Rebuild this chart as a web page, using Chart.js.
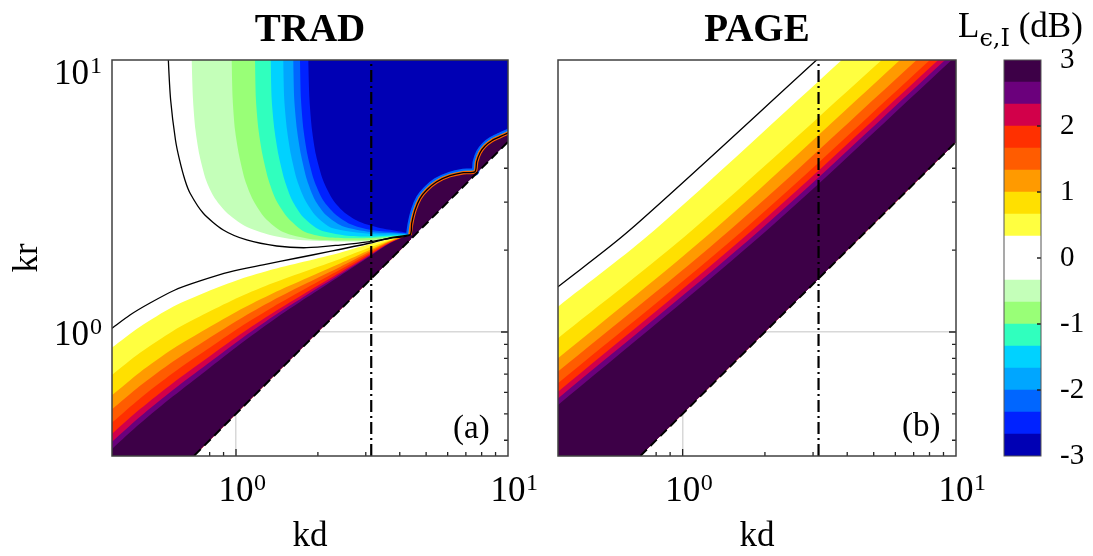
<!DOCTYPE html>
<html><head><meta charset="utf-8">
<script src="https://cdn.jsdelivr.net/npm/chart.js@4.4.1/dist/chart.umd.min.js"></script>
<style>
html,body{margin:0;padding:0;background:#fff;}
#wrap{position:relative;width:1093px;height:556px;overflow:hidden;font-family:'Liberation Serif','Times New Roman',serif;}
canvas{position:absolute;left:0;top:0;}
.lbl{position:absolute;line-height:1;white-space:nowrap;color:#000;}
</style></head><body>
<div id="wrap">
<canvas id="trad" width="1093" height="556"></canvas>
<canvas id="page" width="1093" height="556"></canvas>
<canvas id="cbar" width="1093" height="556"></canvas>
<div class="lbl" style="left:453px;top:411px;font-size:33px">(a)</div>
<div class="lbl" style="left:902px;top:409px;font-size:33px">(b)</div>
<div class="lbl" style="left:958px;top:8px;font-size:35px">L<span style="font-size:24px;position:relative;top:9px;font-family:'DejaVu Serif','Liberation Serif',serif">ϵ,I</span> (dB)</div>
</div>
<script>
Chart.defaults.font.family = "'Liberation Serif','Times New Roman',serif";
Chart.defaults.color = '#000';
Chart.defaults.animation = false;

/* ---------- axes ---------- */
const axisMin = 0.35, axisMax = 10;
const axisTickVals = [1, 10];
const axisTickBase = ['10', '10'];
const axisTickExp = ['0', '1'];
const minorTickVals = [0.4,0.5,0.6,0.7,0.8,0.9,2,3,4,5,6,7,8,9];

/* ---------- contour levels & colours ---------- */
const levelsPos = [0.33,0.67,1.00,1.33,1.67,2.00,2.33,2.67];
const colorsPos = ['#ffff40','#ffe000','#ff9a00','#ff5c00','#ff3000','#d2004a','#6b007c','#3d0047'];
const levelsNeg = [-0.33,-0.67,-1.00,-1.33,-1.67,-2.00,-2.33,-2.67];
const colorsNeg = ['#c4ffb9','#99ff77','#30ffbe','#00d2ff','#00a6ff','#0066ff','#0022ff','#0000b4'];

/* ---------- common boundaries ---------- */
const baseKd = [0.2, 30, 30, 0.2];
const baseKr = [0.1, 15, 30, 30];
const limitKd = [30, 20, 10, 3, 1, 0.35, 0.2];          // kr = kd/2 limit (no data below)
const limitKr = [15, 10, 5, 1.5, 0.5, 0.175, 0.1];
const limitLineKd = [0.2, 30];
const limitLineKr = [0.1, 15];
const piKd = [3.1416, 3.1416];
const piKr = [0.2, 20];

/* ---------- TRAD: positive fan (left edge -> cusp) ---------- */
const tradFanKd = [0.28,0.350,0.4437,0.5866,0.7822,1.034,1.368,1.824,2.412,3.110,3.683,4.388];
const tradFan033 = [0.750,0.877,1.046,1.239,1.406,1.562,1.700,1.824,1.957,2.106,2.198,2.274];
const tradFan067 = [0.584,0.6955,0.838,1.009,1.176,1.347,1.513,1.679,1.855,2.048,2.176,2.274];
const tradFan100 = [0.488,0.5855,0.7115,0.8673,1.030,1.207,1.388,1.578,1.784,2.005,2.161,2.274];
const tradFan133 = [0.430,0.5194,0.6341,0.7796,0.9393,1.117,1.308,1.513,1.735,1.977,2.150,2.274];
const tradFan167 = [0.383,0.4644,0.5699,0.7067,0.8616,1.041,1.236,1.453,1.692,1.950,2.138,2.274];
const tradFan200 = [0.347,0.4223,0.5207,0.650,0.8012,0.979,1.178,1.404,1.656,1.927,2.129,2.274];
const tradFan233 = [0.323,0.3945,0.4878,0.6118,0.7603,0.9368,1.139,1.370,1.630,1.912,2.124,2.274];
const tradFan267 = [0.303,0.3715,0.4604,0.5801,0.7256,0.9019,1.105,1.341,1.608,1.898,2.119,2.274];
const tradFanTailKd = [4.388, 3, 1, 0.35, 0.2];
const tradFanTailKr = [2.194, 1.5, 0.5, 0.175, 0.1];

/* ---------- TRAD: negative U-shaped bands (top edge -> cusp) ---------- */
const tradNeg033Kd = [0.6874,0.6874,0.6950,0.7096,0.7338,0.7757,0.8300,0.9189,1.079,1.334,1.719,2.412,3.135,4.290];
const tradNeg033Kr = [12,10,7.128,5.528,4.474,3.620,3.135,2.762,2.454,2.274,2.179,2.152,2.161,2.264];
const tradNeg067Kd = [0.9643,0.9643,0.9725,0.9916,1.026,1.079,1.155,1.278,1.489,1.871,2.516,3.135,4.290];
const tradNeg067Kr = [12,10,7.128,5.528,4.474,3.620,3.057,2.625,2.331,2.198,2.170,2.179,2.274];
const tradNeg100Kd = [1.175,1.175,1.184,1.210,1.252,1.317,1.403,1.553,1.794,2.216,3.135,4.290];
const tradNeg100Kr = [12,10,7.128,5.528,4.474,3.620,3.057,2.625,2.331,2.226,2.216,2.274];
const tradNeg133Kd = [1.342,1.342,1.353,1.385,1.433,1.508,1.606,1.764,2.036,2.516,3.135,4.290];
const tradNeg133Kr = [12,10,7.128,5.528,4.474,3.620,3.057,2.647,2.371,2.264,2.245,2.274];
const tradNeg167Kd = [1.492,1.492,1.505,1.540,1.593,1.676,1.794,1.968,2.254,3.135,4.290];
const tradNeg167Kr = [12,10,7.128,5.528,4.474,3.620,3.057,2.670,2.412,2.293,2.283];
const tradNeg200Kd = [1.624,1.624,1.638,1.676,1.734,1.824,1.951,2.142,2.454,3.135,4.290];
const tradNeg200Kr = [12,10,7.128,5.528,4.474,3.620,3.057,2.692,2.454,2.331,2.293];
const tradNeg233Kd = [1.719,1.719,1.734,1.771,1.832,1.935,2.088,2.312,2.625,3.135,4.290];
const tradNeg233Kr = [12,10,7.128,5.528,4.474,3.620,3.057,2.715,2.495,2.371,2.302];
const tradNeg267Kd = [1.844,1.844,1.863,1.903,1.968,2.088,2.274,2.516,2.857,3.383,4.290];
const tradNeg267Kr = [12,10,7.128,5.528,4.474,3.620,3.057,2.738,2.537,2.412,2.312];
const tradNegHeadKd = [12], tradNegHeadKr = [12];
const tradNegTailKd = [12], tradNegTailKr = [6];

/* ---------- TRAD: scallop arcs above the limit ---------- */
const tradArcKd = [4.362,4.426,4.551,4.748,5.024,5.469,6.121,6.849,7.562,7.670,7.889,8.230,8.711,9.346,9.940,10.6];
const tradArcKr = [2.274,2.509,2.809,3.101,3.327,3.569,3.755,3.852,3.885,4.228,4.563,4.829,5.050,5.224,5.377,5.54];
const tradUnderTailKd = [12, 12, 10, 7, 4.362];
const tradUnderTailKr = [6.2, 6, 5, 3.5, 2.181];

/* ---------- TRAD: black curves ---------- */
const tradUpperKd = [0.562,0.564,0.575,0.599,0.620,0.649,0.678,0.758,0.898,1.095,1.411,1.820,2.412,3.110,3.683];
const tradUpperKr = [12,10,7.13,5.08,4.29,3.62,3.236,2.732,2.371,2.179,2.071,2.041,2.088,2.148,2.211];
const tradLowerKd = [0.30,0.3530,0.4076,0.4829,0.5965,0.7374,0.9504,1.257,1.676,2.216,3.110,3.683,4.362];
const tradLowerKr = [0.92,1.039,1.155,1.278,1.427,1.540,1.662,1.764,1.871,1.977,2.124,2.216,2.274];

/* ---------- PAGE: bands (left edge -> top edge) ---------- */
const pageBlackKd = [0.28, 0.35, 0.641, 3.09, 3.46];
const pageBlackKr = [1.232, 1.467, 2.37, 10, 11.1];
const page033Kd = [0.28, 0.35, 0.79, 3.82, 4.28];   const page033Kr = [1.041, 1.239, 2.37, 10, 11.1];
const page067Kd = [0.28, 0.35, 1.085, 5.35, 5.99];  const page067Kr = [0.796, 0.948, 2.37, 10, 11.1];
const page100Kd = [0.28, 0.35, 1.30, 6.24, 6.99];   const page100Kr = [0.672, 0.800, 2.37, 10, 11.1];
const page133Kd = [0.28, 0.35, 1.49, 7.18, 8.04];   const page133Kr = [0.601, 0.715, 2.37, 10, 11.1];
const page167Kd = [0.28, 0.35, 1.67, 8.03, 8.99];   const page167Kr = [0.544, 0.648, 2.37, 10, 11.1];
const page200Kd = [0.28, 0.35, 1.80, 8.61, 9.64];   const page200Kr = [0.507, 0.603, 2.37, 10, 11.1];
const page233Kd = [0.28, 0.35, 1.92, 9.12, 10.21];  const page233Kr = [0.479, 0.570, 2.37, 10, 11.1];
const page267Kd = [0.28, 0.35, 2.04, 9.64, 10.8];   const page267Kr = [0.453, 0.539, 2.37, 10, 11.1];

/* ---------- colour bar ---------- */
const cbLevels = [-3,-2.667,-2.333,-2,-1.667,-1.333,-1,-0.667,-0.333,0,0.333,0.667,1,1.333,1.667,2,2.333,2.667,3];
const cbColors = ['#0000b4','#0022ff','#0066ff','#00a6ff','#00d2ff','#30ffbe','#99ff77','#c4ffb9','#ffffff','#ffffff',
                  '#ffff40','#ffe000','#ff9a00','#ff5c00','#ff3000','#d2004a','#6b007c','#3d0047'];
const cbTickVals = [-3,-2,-1,0,1,2,3];

/* ---------- helpers ---------- */
const LABEL_FONT = 35, EXP_FONT = 24;
const pts = (xs, ys) => xs.map((x, i) => ({x, y: ys[i]}));
function polyDs(points, color, tension) {
  return {data: points, fill: 'shape', backgroundColor: color, borderColor: 'rgba(0,0,0,0)',
          borderWidth: 0, pointRadius: 0, tension: tension === undefined ? 0.25 : tension};
}
function lineDs(points, color, width, dash, tension) {
  return {data: points, fill: false, borderColor: color, borderWidth: width, borderDash: dash || [],
          pointRadius: 0, tension: tension === undefined ? 0.25 : tension, borderCapStyle: 'butt'};
}
function withOrder(list) { list.forEach((d, i) => { d.order = list.length - i; }); return list; }

function makeTickMarks(id, before, right, bottom, vals, lens) {
  const draw = (chart) => {
    const {ctx, chartArea: a} = chart;
    ctx.save(); ctx.strokeStyle = '#222'; ctx.lineWidth = 1.3; ctx.beginPath();
    vals.forEach((v, i) => {
      const L = lens[i];
      if (bottom) {
        const px = chart.scales.x.getPixelForValue(v);
        if (px > a.left + 1 && px < a.right - 1) { ctx.moveTo(px, a.bottom); ctx.lineTo(px, a.bottom - L); }
      }
      if (right) {
        const py = chart.scales.y.getPixelForValue(v);
        if (py > a.top + 1 && py < a.bottom - 1) { ctx.moveTo(a.right, py); ctx.lineTo(a.right - L, py); }
      }
    });
    ctx.stroke(); ctx.restore();
  };
  return before ? {id, beforeDatasetsDraw: draw} : {id, afterDatasetsDraw: draw};
}
function makeFrame(id, color, width) {
  return {id, afterDatasetsDraw(chart) {
    const {ctx, chartArea: a} = chart;
    ctx.save(); ctx.strokeStyle = color; ctx.lineWidth = width;
    ctx.strokeRect(a.left, a.top, a.right - a.left, a.bottom - a.top); ctx.restore();
  }};
}
/* exponent of the "10^n" tick labels, placed next to the library's own tick label */
function makeExponents(id, withY) {
  return {id, afterDraw(chart) {
    const {ctx} = chart;
    ctx.save();
    ctx.font = LABEL_FONT + "px 'Liberation Serif','Times New Roman',serif";
    const baseW = ctx.measureText(axisTickBase[0]).width;
    ctx.font = EXP_FONT + "px 'Liberation Serif','Times New Roman',serif";
    ctx.fillStyle = '#000'; ctx.textBaseline = 'middle'; ctx.textAlign = 'left';
    const xs = chart.scales.x;
    const xLabelY = xs.top + xs.options.ticks.padding + LABEL_FONT * 1.2 / 2;
    axisTickVals.forEach((v, i) => {
      ctx.fillText(axisTickExp[i], xs.getPixelForValue(v) + baseW / 2 + 0.5, xLabelY - 8);
    });
    if (withY) {
      const ys = chart.scales.y;
      const xr = ys.right - ys.options.ticks.padding + 1;
      axisTickVals.forEach((v, i) => {
        const extra = v === axisMax ? 10.5 : 0;
        ctx.fillText(axisTickExp[i], xr, ys.getPixelForValue(v) + ys.options.ticks.labelOffset + extra - 8);
      });
    }
    ctx.restore();
  }};
}
const panelTickVals = axisTickVals.concat(minorTickVals);
const panelTickLens = axisTickVals.map(() => 7).concat(minorTickVals.map(() => 4));

function xAxis() {
  return {
    type: 'logarithmic', position: 'bottom', min: axisMin, max: axisMax,
    afterBuildTicks: s => { s.ticks = axisTickVals.map(v => ({value: v})); },
    afterFit: s => { s.height = 100; },
    grid: {color: c => (c.tick && c.tick.value === 1) ? '#d8d8d8' : 'rgba(0,0,0,0)', lineWidth: 1.5, drawTicks: false},
    border: {display: false},
    ticks: {maxRotation: 0, autoSkip: false, padding: 15, labelOffset: 0, font: {size: LABEL_FONT},
            callback: v => axisTickBase[axisTickVals.indexOf(v)] || ''},
    title: {display: true, text: 'kd', font: {size: 35, lineHeight: 1}, padding: {top: 0, bottom: 2}}
  };
}
function yAxis(showLabels, width) {
  return {
    type: 'logarithmic', position: 'left', min: axisMin, max: axisMax,
    afterBuildTicks: s => { s.ticks = axisTickVals.map(v => ({value: v})); },
    afterFit: s => { s.width = width; },
    grid: {color: c => (c.tick && c.tick.value === 1) ? '#d8d8d8' : 'rgba(0,0,0,0)', lineWidth: 1.5, drawTicks: false},
    border: {display: false},
    ticks: {display: showLabels, autoSkip: false, padding: 23, labelOffset: 4, font: {size: LABEL_FONT, lineHeight: '21px'},
            callback: v => v === axisMax ? ['', axisTickBase[1]] : axisTickBase[axisTickVals.indexOf(v)] || ''},
    title: {display: showLabels, text: 'kr', font: {size: 35, lineHeight: 1}, padding: {top: 10, bottom: 0}}
  };
}
function panelOptions(title, padRight, yShow, yWidth) {
  return {
    responsive: false, devicePixelRatio: 1, events: [],
    layout: {padding: {left: 0, top: 0, right: padRight, bottom: 0}},
    elements: {line: {capBezierPoints: false}, point: {radius: 0}},
    plugins: {
      legend: {display: false}, tooltip: {enabled: false},
      title: {display: true, text: title, fullSize: false, color: '#000',
              font: {size: 39, weight: 'bold', lineHeight: 1}, padding: {top: 11, bottom: 10}}
    },
    scales: {x: xAxis(), y: yAxis(yShow, yWidth)}
  };
}

/* ---------- TRAD datasets ---------- */
const tradFanSets = [tradFan033, tradFan067, tradFan100, tradFan133, tradFan167, tradFan200, tradFan233, tradFan267];
const tradNegSets = [[tradNeg033Kd, tradNeg033Kr],[tradNeg067Kd, tradNeg067Kr],[tradNeg100Kd, tradNeg100Kr],[tradNeg133Kd, tradNeg133Kr],
                     [tradNeg167Kd, tradNeg167Kr],[tradNeg200Kd, tradNeg200Kr],[tradNeg233Kd, tradNeg233Kr],[tradNeg267Kd, tradNeg267Kr]];
const arcPts = pts(tradArcKd, tradArcKr);
const tradDatasets = [polyDs(pts(baseKd, baseKr), '#ffffff', 0)];
tradNegSets.forEach((s, i) => tradDatasets.push(polyDs(
  pts(tradNegHeadKd, tradNegHeadKr).concat(pts(s[0], s[1]), arcPts, pts(tradNegTailKd, tradNegTailKr)), colorsNeg[i])));
tradFanSets.forEach((kr, i) => tradDatasets.push(polyDs(
  pts(tradFanKd, kr).concat(pts(tradFanTailKd, tradFanTailKr)), colorsPos[i])));
tradDatasets.push(lineDs(arcPts, '#0060ff', 8));
tradDatasets.push(lineDs(arcPts, '#00c8ff', 4));
tradDatasets.push(polyDs(arcPts.concat(pts(tradUnderTailKd, tradUnderTailKr)), colorsPos[7]));
tradDatasets.push(lineDs(arcPts, '#ff6000', 3.5));
tradDatasets.push(lineDs(pts(tradUpperKd, tradUpperKr).concat(arcPts), '#000', 1.3));
tradDatasets.push(lineDs(pts(tradLowerKd, tradLowerKr), '#000', 1.3));
tradDatasets.push(lineDs(pts(limitLineKd, limitLineKr), '#000', 2, [9, 5], 0));
tradDatasets.push(lineDs(pts(piKd, piKr), '#000', 2.2, [12, 4, 2, 4], 0));

new Chart(document.getElementById('trad'), {
  type: 'line',
  data: {datasets: withOrder(tradDatasets)},
  options: panelOptions('TRAD', 585, true, 112),
  plugins: [makeTickMarks('tmA', true, true, true, panelTickVals, panelTickLens), makeFrame('frA', '#404040', 1.5),
            makeExponents('exA', true)]
});

/* ---------- PAGE datasets ---------- */
const pageSets = [[page033Kd, page033Kr],[page067Kd, page067Kr],[page100Kd, page100Kr],[page133Kd, page133Kr],
                  [page167Kd, page167Kr],[page200Kd, page200Kr],[page233Kd, page233Kr],[page267Kd, page267Kr]];
const pageDatasets = [polyDs(pts(baseKd, baseKr), '#ffffff', 0)];
pageSets.forEach((s, i) => pageDatasets.push(polyDs(pts(s[0], s[1]).concat(pts(limitKd, limitKr)), colorsPos[i], 0.3)));
pageDatasets.push(lineDs(pts(pageBlackKd, pageBlackKr), '#000', 1.3, [], 0.3));
pageDatasets.push(lineDs(pts(limitLineKd, limitLineKr), '#000', 2, [9, 5], 0));
pageDatasets.push(lineDs(pts(piKd, piKr), '#000', 2.2, [12, 4, 2, 4], 0));

new Chart(document.getElementById('page'), {
  type: 'line',
  data: {datasets: withOrder(pageDatasets)},
  options: panelOptions('PAGE', 137, false, 558),
  plugins: [makeTickMarks('tmB', true, true, true, panelTickVals, panelTickLens), makeFrame('frB', '#404040', 1.5),
            makeExponents('exB', false)]
});

/* ---------- colour bar ---------- */
new Chart(document.getElementById('cbar'), {
  type: 'bar',
  data: {labels: [''], datasets: cbColors.map((c, i) => ({
    data: [[cbLevels[i], cbLevels[i + 1]]], backgroundColor: c, borderWidth: 0,
    grouped: false, barPercentage: 1, categoryPercentage: 1}))},
  options: {
    responsive: false, devicePixelRatio: 1, events: [],
    layout: {padding: {left: 1004, right: 0, top: 60, bottom: 100}},
    plugins: {legend: {display: false}, tooltip: {enabled: false}},
    scales: {
      x: {display: false},
      y: {position: 'right', min: -3, max: 3,
          afterBuildTicks: s => { s.ticks = cbTickVals.map(v => ({value: v})); },
          afterFit: s => { s.width = 52; },
          grid: {display: false}, border: {display: false},
          ticks: {padding: 11, font: {size: 29}, callback: v => String(v)}}
    }
  },
  plugins: [makeTickMarks('tmC', false, true, false, cbTickVals, cbTickVals.map(() => 4)), makeFrame('frC', '#555', 1)]
});
</script>
</body></html>
